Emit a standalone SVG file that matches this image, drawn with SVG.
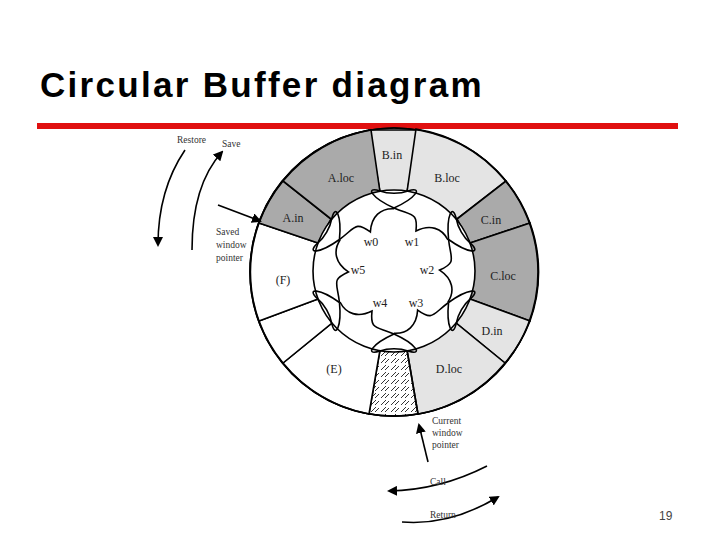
<svg xmlns="http://www.w3.org/2000/svg" width="720" height="540" viewBox="0 0 720 540">
<style>
.seg{stroke:#000;stroke-width:1.6}
.dk{fill:#aaaaaa}.lt{fill:#e4e4e4}.wh{fill:#fff}
.lbl{font-family:"Liberation Serif",serif;font-size:12px;fill:#222;text-anchor:middle}
.sm{font-family:"Liberation Serif",serif;font-size:9.5px;fill:#333}
.ln{fill:none;stroke:#000;stroke-width:1.6}
.ar{fill:none;stroke:#000;stroke-width:1.6;marker-end:url(#ah)}
</style>
<defs>
<marker id="ah" markerWidth="10" markerHeight="10" refX="8" refY="5" orient="auto" markerUnits="userSpaceOnUse"><path d="M0,0 L10,5 L0,10 Z" fill="#000"/></marker>
<pattern id="hatch" width="10" height="7" patternUnits="userSpaceOnUse"><path d="M1,6 L6,1 M5,6 L9,2" stroke="#000" stroke-width="0.8"/></pattern>
<path id="loop" d="M394,208 C372,198 364,186 380,191 C388,194 400,194 408,191 C424,186 416,198 394,208"/>
<path id="lobe" d="M394,208 C412,216 418,212 416,231 C430,224 442,228 448,240"/>
</defs>
<rect width="720" height="540" fill="#fff"/>
<text x="40" y="97" font-family="Liberation Sans,Arial,sans-serif" font-weight="bold" font-size="35" letter-spacing="2.3" fill="#000">Circular Buffer diagram</text>
<rect x="37" y="123" width="641" height="6" fill="#e01010"/>
<g id="ring">
<circle cx="394" cy="272" r="144" fill="#fff" stroke="#000" stroke-width="1.6"/>
<path id="Bin" class="seg lt" d="M369,130 L419,130 L407,192 L380,192 Z"/>
<path id="Bloc" class="seg lt" d="M416,129 A144,144 0 0 1 506,181 L457,219 L407,192 Z"/>
<path id="Cin" class="seg dk" d="M506,181 A144,144 0 0 1 530,223 L470,243 L457,219 Z"/>
<path id="Cloc" class="seg dk" d="M530,223 A144,144 0 0 1 530,321 L470,299 L470,243 Z"/>
<path id="Din" class="seg lt" d="M530,321 A144,144 0 0 1 505,363 L456,323 L470,299 Z"/>
<path id="Dloc" class="seg lt" d="M505,363 A144,144 0 0 1 418,414 L407,350 L456,323 Z"/>
<path id="hatched" class="seg" fill="url(#hatch)" d="M418,414 A144,144 0 0 1 369,414 L380,350 L407,350 Z"/>
<path id="E" class="seg wh" d="M369,414 A144,144 0 0 1 283,363 L332,323 L380,350 Z"/>
<path id="blank" class="seg wh" d="M283,363 A144,144 0 0 1 259,321 L318,299 L332,323 Z"/>
<path id="F" class="seg wh" d="M259,321 A144,144 0 0 1 259,223 L318,243 L318,299 Z"/>
<path id="Ain" class="seg dk" d="M259,223 A144,144 0 0 1 283,181 L331,219 L318,243 Z"/>
<path id="Aloc" class="seg dk" d="M283,181 A144,144 0 0 1 371,130 L380,192 L331,219 Z"/>
<circle cx="394" cy="271" r="81" fill="#fff" stroke="#000" stroke-width="1.6"/>
<circle cx="394" cy="272" r="144" fill="none" stroke="#000" stroke-width="1.6"/>
</g>
<g id="windows" class="ln">
<use href="#loop"/>
<use href="#loop" transform="rotate(60 394 271)"/>
<use href="#loop" transform="rotate(120 394 271)"/>
<use href="#loop" transform="rotate(180 394 271)"/>
<use href="#loop" transform="rotate(240 394 271)"/>
<use href="#loop" transform="rotate(300 394 271)"/>
<use href="#lobe"/>
<use href="#lobe" transform="rotate(60 394 271)"/>
<use href="#lobe" transform="rotate(120 394 271)"/>
<use href="#lobe" transform="rotate(180 394 271)"/>
<use href="#lobe" transform="rotate(240 394 271)"/>
<use href="#lobe" transform="rotate(300 394 271)"/>
</g>
<g id="labels">
<text class="lbl" x="392" y="159">B.in</text>
<text class="lbl" x="341" y="182">A.loc</text>
<text class="lbl" x="447" y="182">B.loc</text>
<text class="lbl" x="293" y="222">A.in</text>
<text class="lbl" x="491" y="224">C.in</text>
<text class="lbl" x="283" y="284">(F)</text>
<text class="lbl" x="503" y="280">C.loc</text>
<text class="lbl" x="492" y="335">D.in</text>
<text class="lbl" x="334" y="373">(E)</text>
<text class="lbl" x="449" y="373">D.loc</text>
<text class="lbl" x="371" y="246">w0</text>
<text class="lbl" x="412" y="246">w1</text>
<text class="lbl" x="358" y="274">w5</text>
<text class="lbl" x="427" y="274">w2</text>
<text class="lbl" x="380" y="307">w4</text>
<text class="lbl" x="416" y="307">w3</text>
</g>
<g id="connectors">
<path class="ar" d="M185,150 Q158,190 158,245"/>
<path class="ar" d="M192,250 Q192,185 222,152"/>
<path class="ar" d="M218,205 L260,221"/>
<path class="ar" d="M428,462 L419,425"/>
<path class="ar" d="M487,466 Q440,490 389,491"/>
<path class="ar" d="M402,522 Q450,526 498,497"/>
</g>
<g id="side-labels">
<text class="sm" x="177" y="143">Restore</text>
<text class="sm" x="222" y="147">Save</text>
<text class="sm" x="216" y="235">Saved</text>
<text class="sm" x="216" y="248">window</text>
<text class="sm" x="216" y="261">pointer</text>
<text class="sm" x="432" y="424">Current</text>
<text class="sm" x="432" y="436">window</text>
<text class="sm" x="432" y="448">pointer</text>
<text class="sm" x="430" y="485">Call</text>
<text class="sm" x="430" y="518">Return</text>
</g>
<text x="659" y="520" font-family="Liberation Sans,Arial,sans-serif" font-size="12" fill="#444">19</text>
</svg>
